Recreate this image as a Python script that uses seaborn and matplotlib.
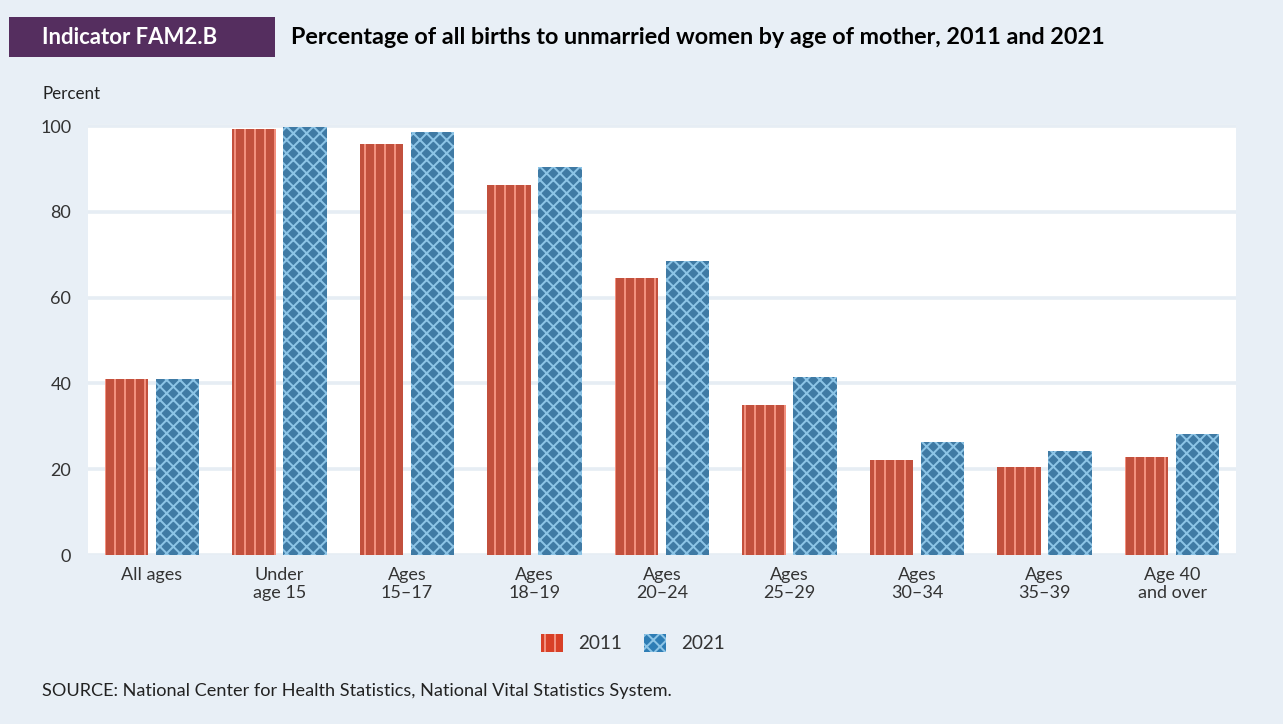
import numpy as np
import pandas as pd
import matplotlib.pyplot as plt
import matplotlib.patches as mpatches
import seaborn as sns

# data
groups = ["All ages", "Under\nage 15", "Ages\n15\u201317", "Ages\n18\u201319", "Ages\n20\u201324",
          "Ages\n25\u201329", "Ages\n30\u201334", "Ages\n35\u201339", "Age 40\nand over"]
pct_2011 = [41.1, 99.4, 95.8, 86.2, 64.6, 35.0, 22.1, 20.5, 22.8]
pct_2021 = [41.1, 99.9, 98.6, 90.4, 68.5, 41.5, 26.3, 24.2, 28.2]
years = ["2011", "2021"]

df = pd.DataFrame({
    "group": groups * 2,
    "year": [years[0]] * len(groups) + [years[1]] * len(groups),
    "pct": pct_2011 + pct_2021,
})

bg = "#e8eff6"
red = "#d84027"
blue = "#2e7db5"
red_h = "#f2907e"
blue_h = "#8cc4e6"

sns.set_style("white")
plt.rcParams['font.family'] = ['Lato', 'DejaVu Sans']
plt.rcParams['hatch.linewidth'] = 1.2

dpi = 120
fig = plt.figure(figsize=(1283 / dpi, 724 / dpi), dpi=dpi, facecolor=bg)
ax = fig.add_axes([88 / 1283, 1 - 555 / 724, (1236 - 88) / 1283, (555 - 124) / 724])
ax.set_facecolor("white")

sns.barplot(data=df, x="group", y="pct", hue="year", palette=[red, blue],
            width=0.8, gap=0.15, legend=False, ax=ax, zorder=3)

# hatch patterns (hatch colour follows edgecolor)
for cont, hatch, hc in zip(ax.containers, ["||", "xxx"], [red_h, blue_h]):
    for bar in cont:
        bar.set_hatch(hatch)
        bar.set_edgecolor(hc)
        bar.set_linewidth(0)

ax.set_ylim(0, 100.5)
ax.set_xlim(-0.5, len(groups) - 0.5)
ax.set_yticks([0, 20, 40, 60, 80, 100])
ax.yaxis.grid(True, color="#e6edf4", linewidth=2.2, zorder=0)
ax.set_axisbelow(True)
for s in ax.spines.values():
    s.set_visible(False)
ax.set_xlabel("")
ax.set_ylabel("")
ax.tick_params(axis="both", length=0, labelsize=10.8, labelcolor="#333333")
ax.tick_params(axis="y", pad=10)
ax.tick_params(axis="x", pad=7)
for lbl in ax.get_yticklabels():
    lbl.set_horizontalalignment("right")

# legend
h1 = mpatches.Patch(facecolor=red, edgecolor=red_h, hatch="||", linewidth=0)
h2 = mpatches.Patch(facecolor=blue, edgecolor=blue_h, hatch="xxx", linewidth=0)
fig.legend([h1, h2], years, loc="center", bbox_to_anchor=(633 / 1283, 1 - 643 / 724),
           ncol=2, frameon=False, fontsize=11.3, handlelength=1.15, handleheight=1.15,
           columnspacing=1.2, handletextpad=0.8, labelcolor="#333333")

# header
fig.patches.append(mpatches.Rectangle((9 / 1283, 1 - 57 / 724), 266 / 1283, 40 / 724,
                                      transform=fig.transFigure, facecolor="#552e5f",
                                      edgecolor="none"))
fig.text(42 / 1283, 1 - 37 / 724, "Indicator FAM2.B", color="white", fontsize=13.3,
         fontweight="bold", va="center", ha="left")
fig.text(291 / 1283, 1 - 37 / 724,
         "Percentage of all births to unmarried women by age of mother, 2011 and 2021",
         color="black", fontsize=14, fontweight="bold", va="center", ha="left")
fig.text(42 / 1283, 1 - 94 / 724, "Percent", fontsize=10.2, color="#222222", va="center")
fig.text(42 / 1283, 1 - 691 / 724,
         "SOURCE: National Center for Health Statistics, National Vital Statistics System.",
         fontsize=10.9, color="#222222", va="center")

fig.savefig("out.png", dpi=dpi, facecolor=bg)
